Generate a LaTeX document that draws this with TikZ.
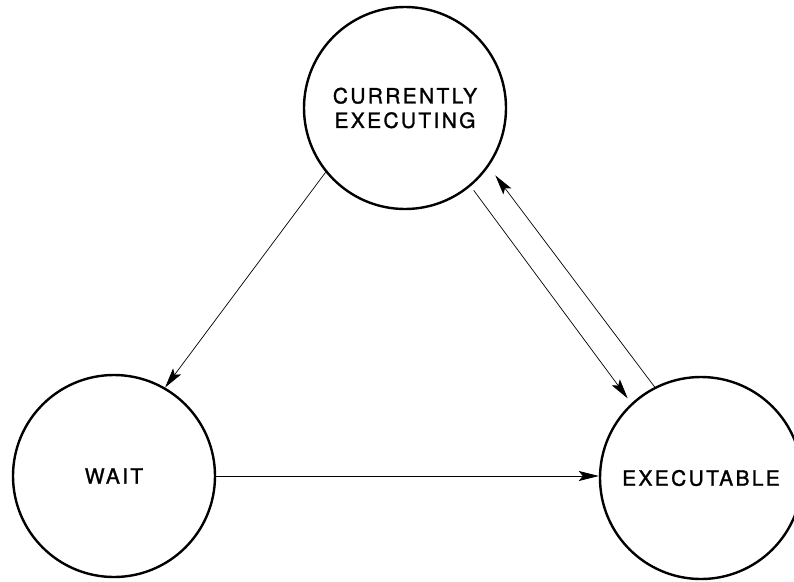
\documentclass[tikz,border=0pt]{standalone}
\usepackage{fontspec}
\newfontfamily\statefont[LetterSpace=11,FakeBold=1.2]{TeX Gyre Heros}
\usetikzlibrary{arrows.meta}

\begin{document}
\begin{tikzpicture}[x=1pt,y=-1pt,
  state/.style={draw, circle, line width=2.4pt, minimum size=202pt, inner sep=0pt,
    align=center, font=\statefont\fontsize{21}{24.5}\selectfont},
  trans/.style={-{Stealth[length=20pt,width=10pt,inset=4pt]}, line width=.7pt}]
\useasboundingbox (0,0) rectangle (794,581);
\node[state] (cur) at (405,108) {CURRENTLY\\EXECUTING};
\node[state] (wait) at (114,476) {WAIT};
\node[state] (exe) at (701,478) {EXECUTABLE};
% transitions
\draw[trans] (cur.219) -- (wait.60);
\draw[trans, shorten <=5pt, shorten >=6pt] (cur.310) -- (exe.133);
\draw[trans, shorten >=11pt] (exe.117) -- (cur.325);
\draw[trans] (wait.east) -- (wait.east -| exe.west);
\end{tikzpicture}
\end{document}
